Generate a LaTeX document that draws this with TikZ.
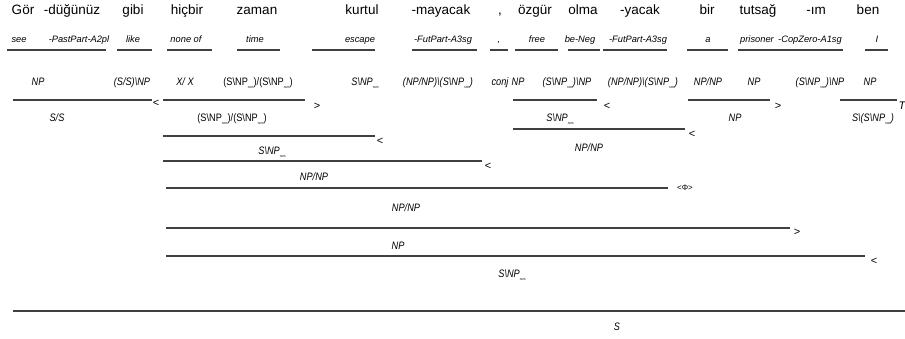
\documentclass[tikz,border=0pt]{standalone}
\usepackage{fontspec}
\setmainfont{Liberation Sans}
\newfontfamily\catf{Liberation Sans}[FakeStretch=0.85]
\newcommand{\bsl}{\textbackslash}
\newcommand{\nomsub}{\raisebox{-3.5pt}{\fontsize{3.5}{4}\selectfont\upshape nom}}
\begin{document}
\begin{tikzpicture}[x=1pt,y=-1pt,
  word/.style={font=\fontsize{13.5}{15}\selectfont, inner sep=0, anchor=base},
  gloss/.style={font=\fontsize{9.3}{10}\selectfont\itshape, inner sep=0, anchor=base},
  cat/.style={font=\fontsize{10.8}{12}\catf\itshape, inner sep=0, anchor=base},
  catup/.style={font=\fontsize{10.8}{12}\catf, inner sep=0, anchor=base},
  bar/.style={draw=black!75, line width=1.1pt},
  rulesym/.style={font=\fontsize{11}{12}\selectfont, inner sep=0},
  smallsym/.style={font=\fontsize{8}{9}\selectfont, inner sep=0}]
\useasboundingbox (0,0) rectangle (905,338);
\fill[white] (0,0) rectangle (905,338);

% words
\node[word] (w1) at (23,14) {Gör};
\node[word] (w2) at (72,14) {-düğünüz};
\node[word] (w3) at (133,14) {gibi};
\node[word] (w4) at (187,14) {hiçbir};
\node[word] (w5) at (257,14) {zaman};
\node[word] (w6) at (362,14) {kurtul};
\node[word] (w7) at (441,14) {-mayacak};
\node[word] (w8) at (500,14) {,};
\node[word] (w9) at (535,14) {özgür};
\node[word] (w10) at (583,14) {olma};
\node[word] (w11) at (640,14) {-yacak};
\node[word] (w12) at (707,14) {bir};
\node[word] (w13) at (758,14) {tutsağ};
\node[word] (w14) at (816,14) {-ım};
\node[word] (w15) at (868,14) {ben};

% glosses
\node[gloss] (g1) at (19,42) {see};
\node[gloss] (g2) at (79,42) {-PastPart-A2pl};
\node[gloss] (g3) at (133,42) {like};
\node[gloss] (g4) at (186,42) {none of};
\node[gloss] (g5) at (255,42) {time};
\node[gloss] (g6) at (360,42) {escape};
\node[gloss] (g7) at (443,42) {-FutPart-A3sg};
\node[gloss] (g8) at (499,42) {,};
\node[gloss] (g9) at (537,42) {free};
\node[gloss] (g10) at (580,42) {be-Neg};
\node[gloss] (g11) at (638,42) {-FutPart-A3sg};
\node[gloss] (g12) at (708,42) {a};
\node[gloss] (g13) at (757,42) {prisoner};
\node[gloss] (g14) at (810,42) {-CopZero-A1sg};
\node[gloss] (g15) at (877,42) {I};

% lexical underlines
\foreach \a/\b in {7/106,117/152,167/212,237/280,312/375,412/477,490/508,515/558,568/600,603/667,687/728,738/843,865/888}
  \draw[bar] (\a,50) -- (\b,50);

% categories
\node[cat] (c1) at (38,85) {NP};
\node[cat] (c2) at (132,85) {(S/S)\bsl NP};
\node[cat] (c3) at (185,85) {X/ X};
\node[catup] (c4) at (258,85) {(S\bsl NP\nomsub)/(S\bsl NP\nomsub)};
\node[cat] (c5) at (365,85) {S\bsl NP\nomsub};
\node[cat] (c6) at (438,85) {(NP/NP)\bsl(S\bsl NP\nomsub)};
\node[cat] (c7) at (500,85) {conj};
\node[cat] (c8) at (518,85) {NP};
\node[cat] (c9) at (567,85) {(S\bsl NP\nomsub)\bsl NP};
\node[cat] (c10) at (643,85) {(NP/NP)\bsl(S\bsl NP\nomsub)};
\node[cat] (c11) at (708,85) {NP/NP};
\node[cat] (c12) at (754,85) {NP};
\node[cat] (c13) at (820,85) {(S\bsl NP\nomsub)\bsl NP};
\node[cat] (c14) at (870,85) {NP};

% row of first combinations
\coordinate (l1a) at (13,100); \coordinate (l1b) at (152,100);
\draw[bar] (l1a) -- (l1b);
\node[rulesym] (r1) at (156,103) {<};
\node[cat] (d1) at (57,121) {S/S};

\coordinate (l2a) at (163,100); \coordinate (l2b) at (305,100);
\draw[bar] (l2a) -- (l2b);
\node[rulesym] (r2) at (317,106) {>};
\node[catup] (d2) at (232,121) {(S\bsl NP\nomsub)/(S\bsl NP\nomsub)};

\coordinate (l3a) at (513,100); \coordinate (l3b) at (597,100);
\draw[bar] (l3a) -- (l3b);
\node[rulesym] (r3) at (607,106) {<};
\node[cat] (d3) at (560,121) {S\bsl NP\nomsub};

\coordinate (l4a) at (688,100); \coordinate (l4b) at (770,100);
\draw[bar] (l4a) -- (l4b);
\node[rulesym] (r4) at (778,106) {>};
\node[cat] (d4) at (735,121) {NP};

\coordinate (l5a) at (840,100); \coordinate (l5b) at (897,100);
\draw[bar] (l5a) -- (l5b);
\node[rulesym,font=\fontsize{11}{12}\selectfont\itshape] (r5) at (902,106) {T};
\node[cat] (d5) at (873,121) {S\bsl(S\bsl NP\nomsub)};

% further rows
\coordinate (l6a) at (163,136); \coordinate (l6b) at (375,136);
\draw[bar] (l6a) -- (l6b);
\node[rulesym] (r6) at (380,141) {<};
\node[cat] (d6) at (272,154) {S\bsl NP\nomsub};

\coordinate (l7a) at (513,129); \coordinate (l7b) at (685,129);
\draw[bar] (l7a) -- (l7b);
\node[rulesym] (r7) at (692,134) {<};
\node[cat] (d7) at (589,151) {NP/NP};

\coordinate (l8a) at (163,161); \coordinate (l8b) at (482,161);
\draw[bar] (l8a) -- (l8b);
\node[rulesym] (r8) at (488,166) {<};
\node[cat] (d8) at (314,180) {NP/NP};

\coordinate (l9a) at (166,188); \coordinate (l9b) at (668,188);
\draw[bar] (l9a) -- (l9b);
\node[smallsym] (r9) at (685,188) {<Φ>};
\node[cat] (d9) at (406,211) {NP/NP};

\coordinate (l10a) at (166,228); \coordinate (l10b) at (790,228);
\draw[bar] (l10a) -- (l10b);
\node[rulesym] (r10) at (797,232) {>};
\node[cat] (d10) at (398,249) {NP};

\coordinate (l11a) at (166,256); \coordinate (l11b) at (865,256);
\draw[bar] (l11a) -- (l11b);
\node[rulesym] (r11) at (874,261) {<};
\node[cat] (d11) at (512,277) {S\bsl NP\nomsub};

\coordinate (l12a) at (13,311); \coordinate (l12b) at (905,311);
\draw[bar] (l12a) -- (l12b);
\node[cat] (d12) at (617,330) {S};
\end{tikzpicture}
\end{document}
